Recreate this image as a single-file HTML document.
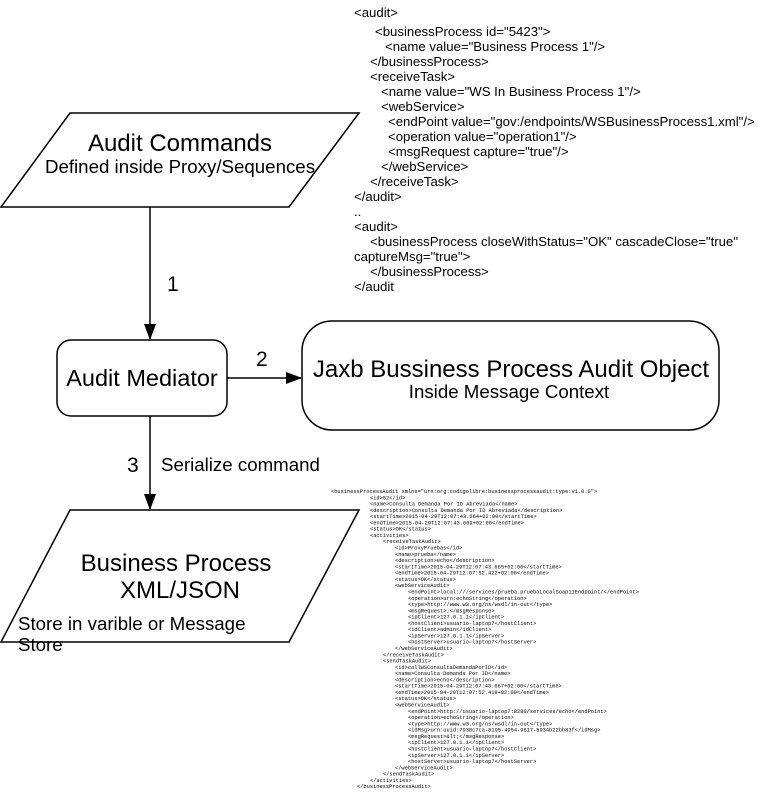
<!DOCTYPE html>
<html><head><meta charset="utf-8"><style>
html,body{margin:0;padding:0;background:#fff;}
svg{display:block;}
.s{font-family:"Liberation Sans",sans-serif;fill:#000;}
.m{font-family:"Liberation Mono",monospace;font-size:5.35px;fill:#000;}
</style></head><body>
<svg width="780" height="794" viewBox="0 0 780 794" xmlns="http://www.w3.org/2000/svg">
<defs><marker id="b" markerWidth="16" markerHeight="12" refX="15" refY="6" orient="auto" markerUnits="userSpaceOnUse"><path d="M0,0 L16,6 L0,12 z" fill="#000"/></marker></defs>
<g fill="none" stroke="#000" stroke-width="1.5">
<polygon points="70,113 359,113 289,207 1,207"/>
<polygon points="70,510 359,510 289,642 1,642"/>
<rect x="57" y="340" width="170" height="76" rx="14"/>
<rect x="302" y="321" width="417" height="109" rx="30"/>
<line x1="150" y1="207" x2="150" y2="339" marker-end="url(#b)"/>
<line x1="227" y1="378" x2="301" y2="378" marker-end="url(#b)"/>
<line x1="150" y1="416" x2="150" y2="509" marker-end="url(#b)"/>
</g>
<g class="s">
<text x="180" y="151" font-size="24" text-anchor="middle">Audit Commands</text>
<text x="180" y="173" font-size="18.7" text-anchor="middle">Defined inside Proxy/Sequences</text>
<text x="167" y="291" font-size="21">1</text>
<text x="142" y="386" font-size="23.5" text-anchor="middle">Audit Mediator</text>
<text x="256" y="366" font-size="21">2</text>
<text x="511" y="377" font-size="24" text-anchor="middle">Jaxb Bussiness Process Audit Object</text>
<text x="509" y="398" font-size="18.7" text-anchor="middle">Inside Message Context</text>
<text x="127" y="472" font-size="21">3</text>
<text x="161" y="471" font-size="18.7">Serialize command</text>
<text x="176" y="571" font-size="24" text-anchor="middle">Business Process</text>
<text x="180" y="598" font-size="24" text-anchor="middle">XML/JSON</text>
<text x="18" y="630" font-size="18.7">Store in varible or Message</text>
<text x="18" y="651" font-size="18.7">Store</text>
</g>
<g class="s" font-size="13.2">
<text x="354" y="17">&lt;audit&gt;</text>
<text x="375" y="36">&lt;businessProcess id="5423"&gt;</text>
<text x="385" y="51">&lt;name value="Business Process 1"/&gt;</text>
<text x="370" y="66">&lt;/businessProcess&gt;</text>
<text x="370" y="81">&lt;receiveTask&gt;</text>
<text x="381" y="96">&lt;name value="WS In Business Process 1"/&gt;</text>
<text x="381" y="111">&lt;webService&gt;</text>
<text x="388" y="126">&lt;endPoint value="gov:/endpoints/WSBusinessProcess1.xml"/&gt;</text>
<text x="388" y="141">&lt;operation value="operation1"/&gt;</text>
<text x="388" y="156">&lt;msgRequest capture="true"/&gt;</text>
<text x="381" y="171">&lt;/webService&gt;</text>
<text x="370" y="186">&lt;/receiveTask&gt;</text>
<text x="354" y="201">&lt;/audit&gt;</text>
<text x="354" y="216">..</text>
<text x="354" y="231">&lt;audit&gt;</text>
<text x="370" y="246">&lt;businessProcess closeWithStatus="OK" cascadeClose="true"</text>
<text x="354" y="261">captureMsg="true"&gt;</text>
<text x="370" y="276">&lt;/businessProcess&gt;</text>
<text x="354" y="291">&lt;/audit</text>
</g>
<g class="m">
<text x="331" y="493">&lt;businessProcessAudit xmlns="urn:org:codigolibre:businessprocessaudit:type:v1.0.0"&gt;</text>
<text x="370" y="499.3">&lt;id&gt;52&lt;/id&gt;</text>
<text x="370" y="505.6">&lt;name&gt;Consulta Demanda Por ID Abreviada&lt;/name&gt;</text>
<text x="370" y="511.8">&lt;description&gt;Consulta Demanda Por ID Abreviada&lt;/description&gt;</text>
<text x="370" y="518.1">&lt;startTime&gt;2015-04-29T12:07:43.664+02:00&lt;/startTime&gt;</text>
<text x="370" y="524.4">&lt;endTime&gt;2015-04-29T12:07:43.669+02:00&lt;/endTime&gt;</text>
<text x="370" y="530.7">&lt;status&gt;OK&lt;/status&gt;</text>
<text x="370" y="537">&lt;activities&gt;</text>
<text x="383" y="543.2">&lt;receiveTaskAudit&gt;</text>
<text x="395" y="549.5">&lt;id&gt;ProxyPruebas&lt;/id&gt;</text>
<text x="395" y="555.8">&lt;name&gt;prueba&lt;/name&gt;</text>
<text x="395" y="562.1">&lt;description&gt;echo&lt;/description&gt;</text>
<text x="395" y="568.4">&lt;startTime&gt;2015-04-29T12:07:43.665+02:00&lt;/startTime&gt;</text>
<text x="395" y="574.6">&lt;endTime&gt;2015-04-29T12:07:52.422+02:00&lt;/endTime&gt;</text>
<text x="395" y="580.9">&lt;status&gt;OK&lt;/status&gt;</text>
<text x="395" y="587.2">&lt;webServiceAudit&gt;</text>
<text x="408" y="593.5">&lt;endPoint&gt;local:///services/prueba.pruebaLocalSoap11Endpoint/&lt;/endPoint&gt;</text>
<text x="408" y="599.8">&lt;operation&gt;urn:echoString&lt;/operation&gt;</text>
<text x="408" y="606">&lt;type&gt;http://www.w3.org/ns/wsdl/in-out&lt;/type&gt;</text>
<text x="408" y="612.3">&lt;msgRequest&gt;;&lt;/msgResponse&gt;</text>
<text x="408" y="618.6">&lt;ipClient&gt;127.0.1.1&lt;/ipClient&gt;</text>
<text x="408" y="624.9">&lt;hostClient&gt;usuario-laptop7&lt;/hostClient&gt;</text>
<text x="408" y="631.2">&lt;idClient&gt;admin&lt;/idClient&gt;</text>
<text x="408" y="637.4">&lt;ipServer&gt;127.0.1.1&lt;/ipServer&gt;</text>
<text x="408" y="643.7">&lt;hostServer&gt;usuario-laptop7&lt;/hostServer&gt;</text>
<text x="395" y="650">&lt;/webServiceAudit&gt;</text>
<text x="383" y="656.3">&lt;/receiveTaskAudit&gt;</text>
<text x="383" y="662.6">&lt;sendTaskAudit&gt;</text>
<text x="395" y="668.8">&lt;id&gt;callWSConsultaDemandaPorID&lt;/id&gt;</text>
<text x="395" y="675.1">&lt;name&gt;Consulta Demanda Por ID&lt;/name&gt;</text>
<text x="395" y="681.4">&lt;description&gt;echo&lt;/description&gt;</text>
<text x="395" y="687.7">&lt;startTime&gt;2015-04-29T12:07:43.667+02:00&lt;/startTime&gt;</text>
<text x="395" y="694">&lt;endTime&gt;2015-04-29T12:07:52.418+02:00&lt;/endTime&gt;</text>
<text x="395" y="700.2">&lt;status&gt;OK&lt;/status&gt;</text>
<text x="395" y="706.5">&lt;webServiceAudit&gt;</text>
<text x="408" y="712.8">&lt;endPoint&gt;http://usuario-laptop7:8280/services/echo&lt;/endPoint&gt;</text>
<text x="408" y="719.1">&lt;operation&gt;echoString&lt;/operation&gt;</text>
<text x="408" y="725.4">&lt;type&gt;http://www.w3.org/ns/wsdl/in-out&lt;/type&gt;</text>
<text x="408" y="731.6">&lt;idMsg&gt;urn:uuid:7938c7ca-8195-4954-9817-5934b22bb83f&lt;/idMsg&gt;</text>
<text x="408" y="737.9">&lt;msgRequest&gt;&amp;lt;&lt;/msgResponse&gt;</text>
<text x="408" y="744.2">&lt;ipClient&gt;127.0.1.1&lt;/ipClient&gt;</text>
<text x="408" y="750.5">&lt;hostClient&gt;usuario-laptop7&lt;/hostClient&gt;</text>
<text x="408" y="756.8">&lt;ipServer&gt;127.0.1.1&lt;/ipServer&gt;</text>
<text x="408" y="763">&lt;hostServer&gt;usuario-laptop7&lt;/hostServer&gt;</text>
<text x="395" y="769.3">&lt;/webServiceAudit&gt;</text>
<text x="383" y="775.6">&lt;/sendTaskAudit&gt;</text>
<text x="370" y="781.9">&lt;/activities&gt;</text>
<text x="357" y="788.2">&lt;/businessProcessAudit&gt;</text>
</g>
</svg>
</body></html>
